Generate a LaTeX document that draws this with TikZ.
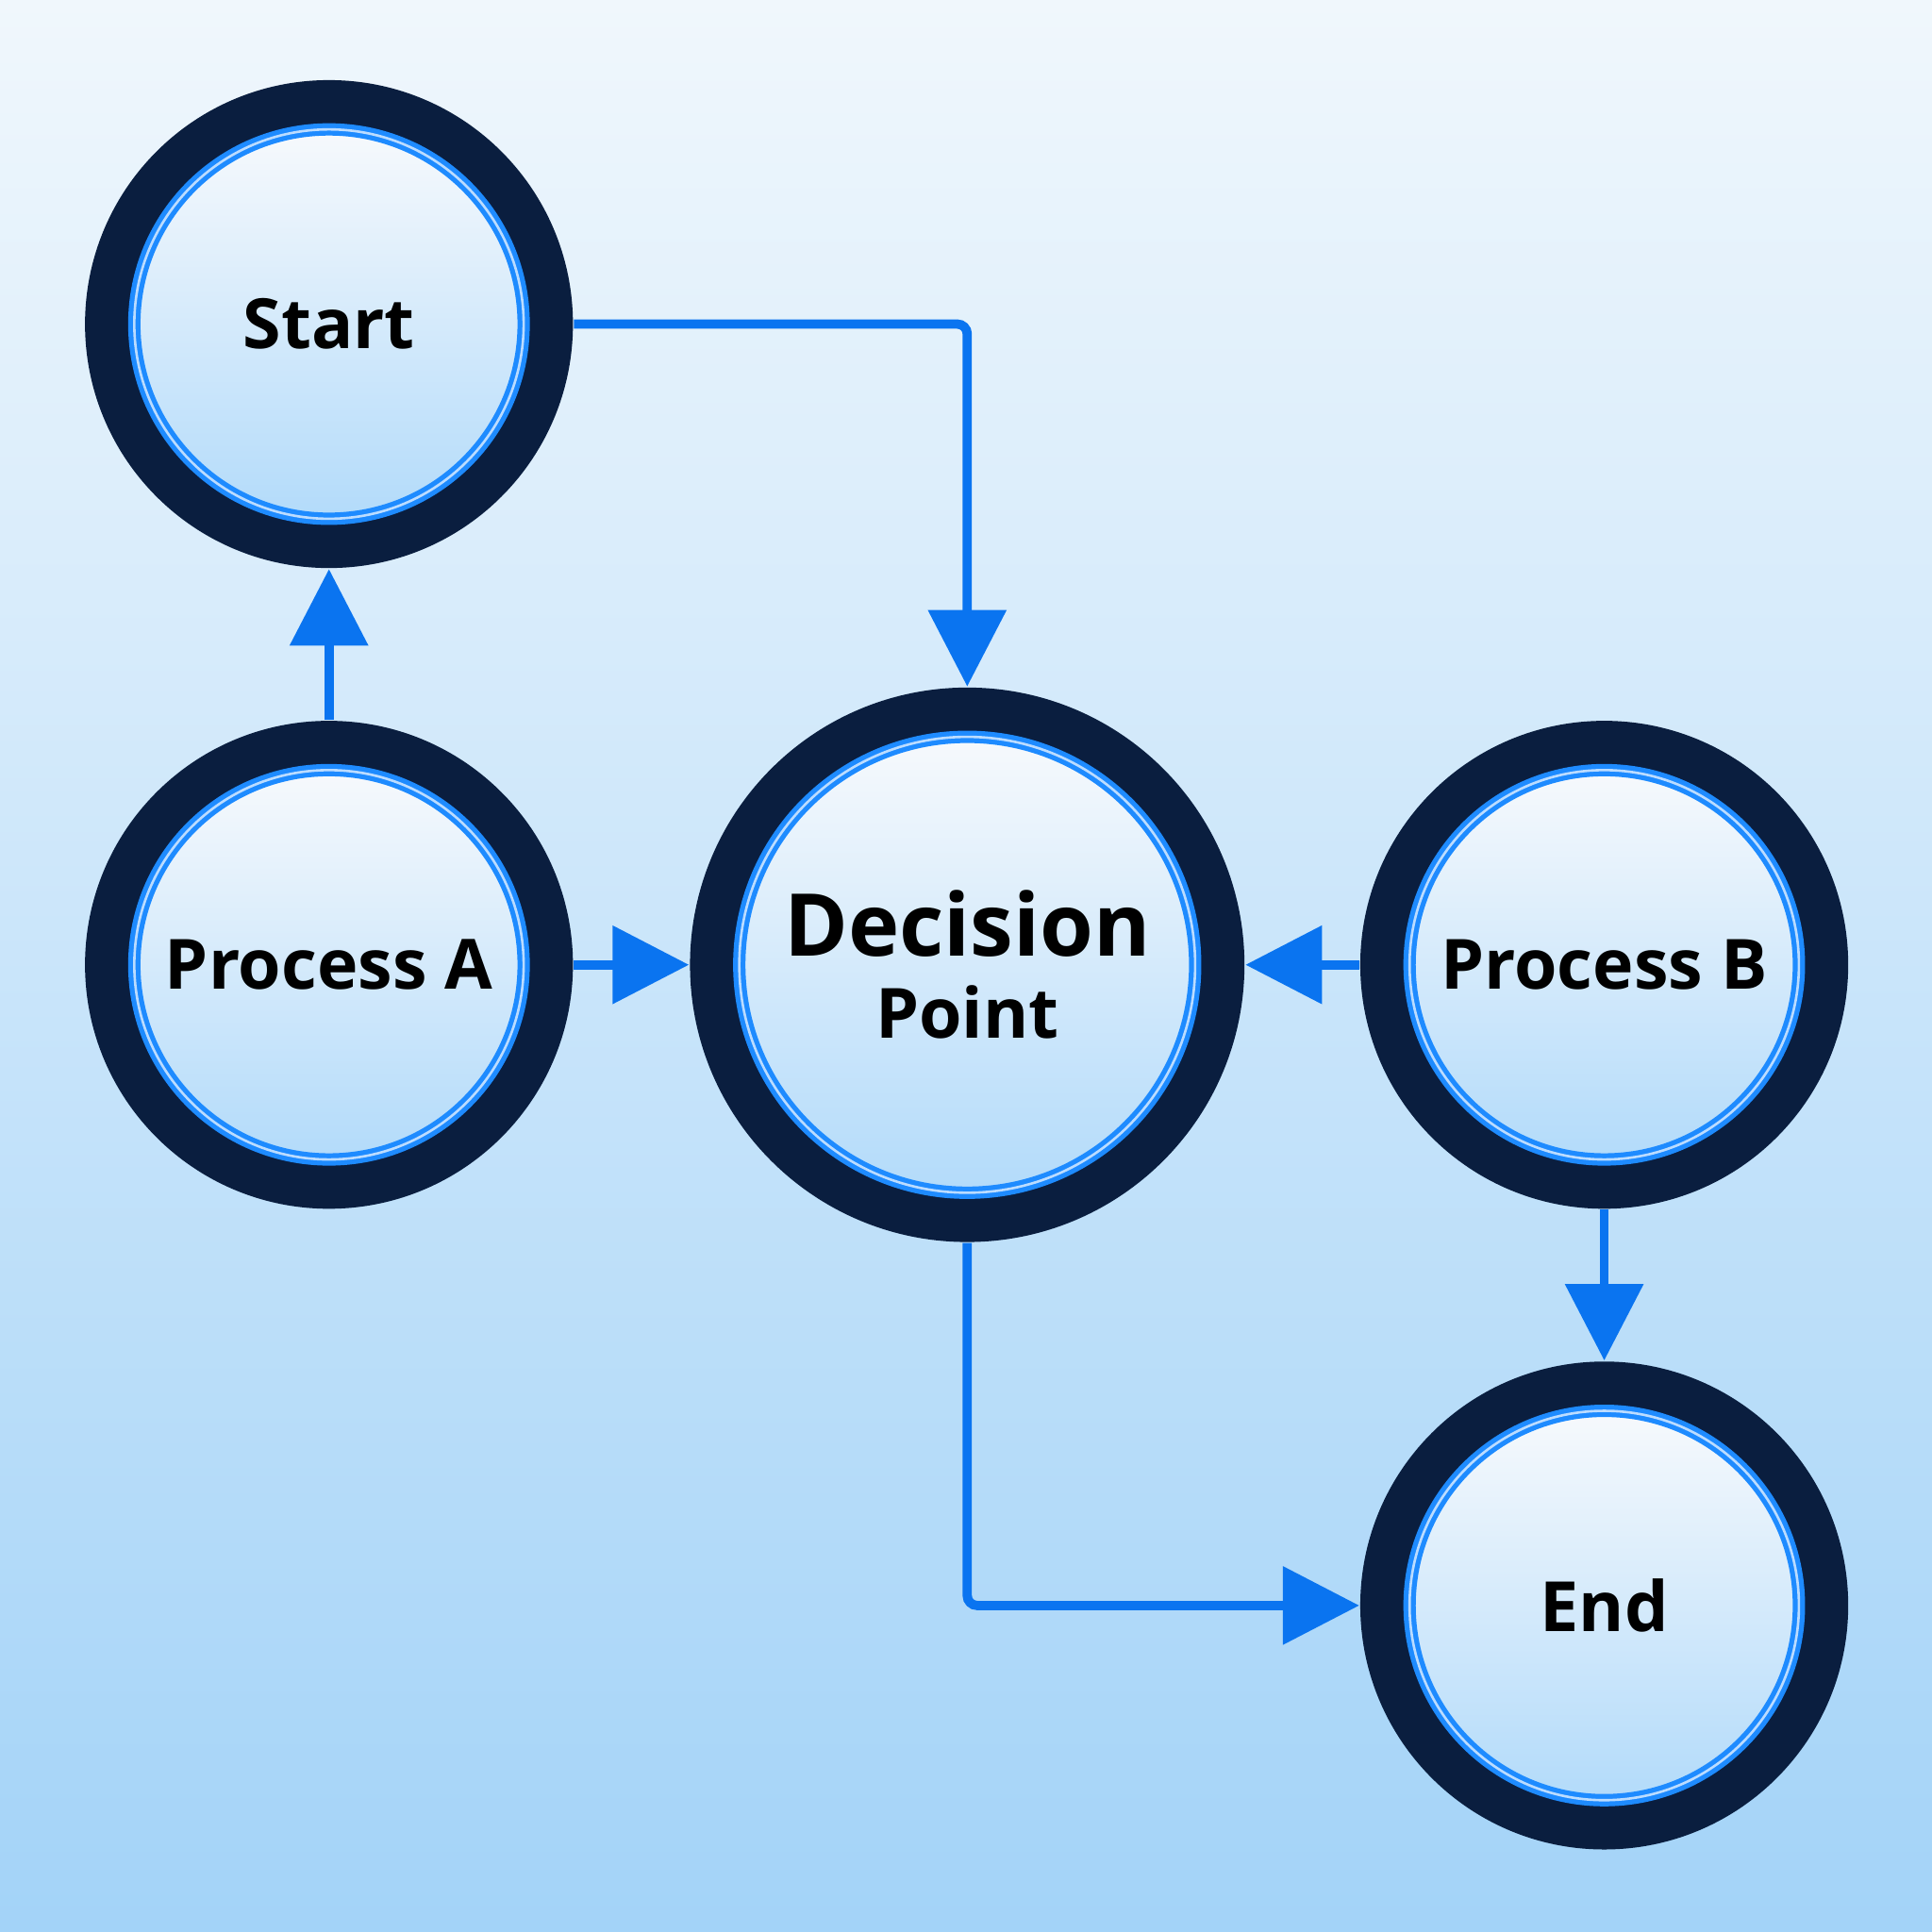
\documentclass[tikz,border=0pt]{standalone}
\usepackage{fontspec}
\setmainfont{Open Sans}
\usetikzlibrary{arrows.meta,shadings}
\definecolor{navy}{HTML}{0A1E3F}
\definecolor{ringblue}{HTML}{1E8BFF}
\definecolor{arr}{HTML}{0A74F0}
\definecolor{bgtop}{HTML}{F0F7FC}
\definecolor{bgbot}{HTML}{A3D3F8}
\definecolor{intop}{HTML}{F6F9FC}
\definecolor{inbot}{HTML}{B3DBFA}
\tikzset{
  lbl/.style={font=\bfseries\fontsize{16}{19}\selectfont, align=center, text=black},
  conn/.style={draw=arr, line width=0.075cm, rounded corners=0.08cm, -{Triangle[length=0.62cm,width=0.62cm]}},
}
\newcommand{\bub}[5]{%
  \fill[navy] (#2,#3) circle[radius=#4];
  \shade[top color=intop, bottom color=inbot] (#2,#3) circle[radius=#4-42];
  \draw[ringblue, line width=0.1cm] (#2,#3) circle[radius=#4-40];
  \draw[white!70!ringblue, line width=0.02cm] (#2,#3) circle[radius=#4-40];
  \node[circle, minimum size=#4*0.02cm, inner sep=0pt] (#1) at (#2,#3) {};
  \node[lbl] at (#2,#3) {#5};
}
\begin{document}
\begin{tikzpicture}[x=0.01cm,y=-0.01cm]
\useasboundingbox (0,0) rectangle (1568,1568);
\shade[top color=bgtop, bottom color=bgbot] (0,0) rectangle (1568,1568);
\bub{start}{267}{263}{198}{Start}
\bub{pa}{267}{783}{198}{Process A}
\bub{dp}{785}{783}{225}{\fontsize{20}{27}\selectfont Decision\\Point}
\bub{pb}{1302}{783}{198}{Process B}
\bub{en}{1302}{1303}{198}{End}
\draw[conn] (start.east) -- (dp.north |- start.east) -- (dp.north);
\draw[conn] (pa.north) -- (start.south);
\draw[conn] (pa.east) -- (dp.west);
\draw[conn] (pb.west) -- (dp.east);
\draw[conn] (dp.south) -- (dp.south |- en.west) -- (en.west);
\draw[conn] (pb.south) -- (en.north);
\end{tikzpicture}
\end{document}
